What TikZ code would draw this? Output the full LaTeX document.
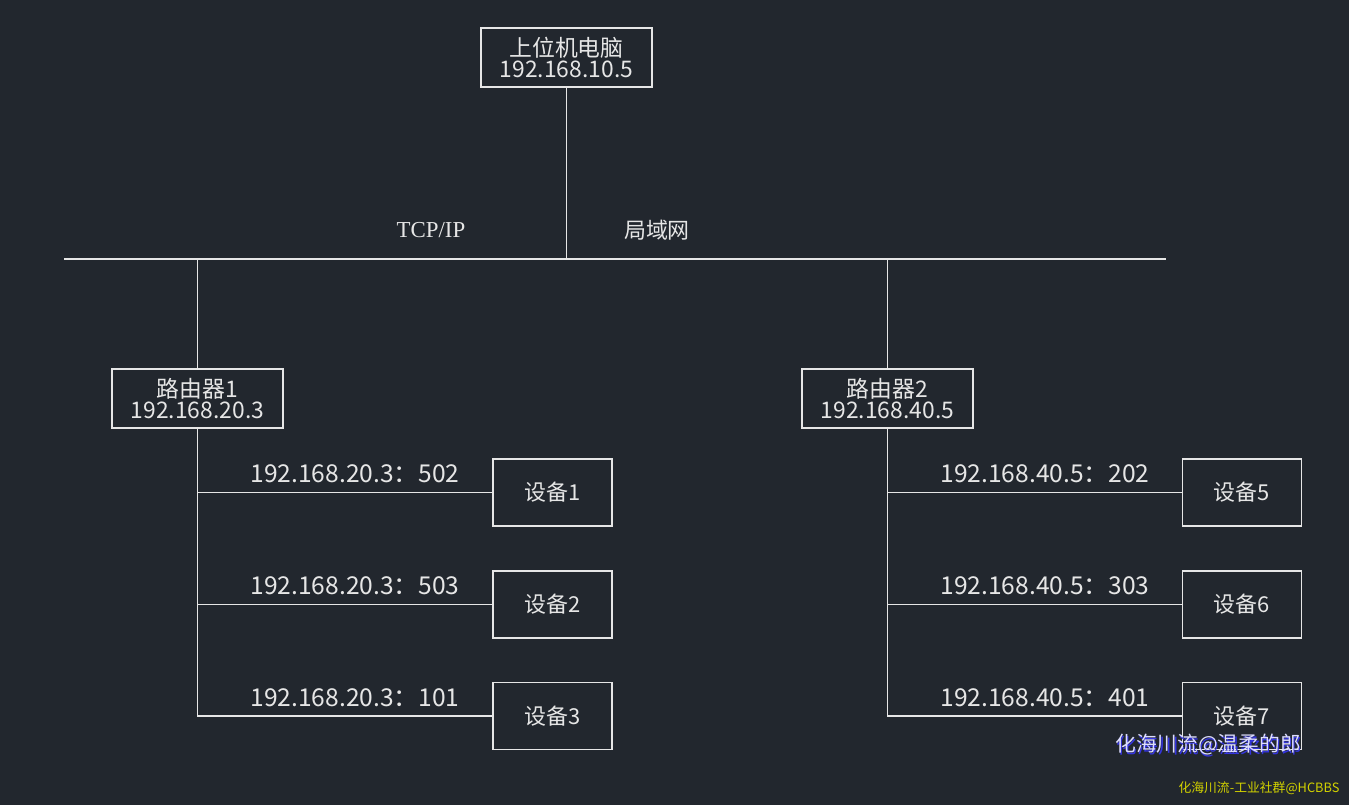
\documentclass[tikz,border=0pt]{standalone}
\usepackage{fontspec}
\setmainfont{Noto Sans CJK SC}
\newfontfamily\serifx{Liberation Serif}
\definecolor{bg}{HTML}{22272E}
\definecolor{ln}{HTML}{E6E6E6}
\definecolor{wmA}{HTML}{DCDCFF}
\definecolor{wmAs}{HTML}{3434E0}
\definecolor{wmB}{HTML}{D2D200}
\tikzset{
  box/.style={draw=ln, line width=0.6pt, text=ln, align=center, inner sep=0pt,
    minimum width=3.42cm, minimum height=1.18cm, font=\fontsize{13}{14}\selectfont},
  dev/.style={draw=ln, line width=0.6pt, text=ln, inner sep=0pt,
    minimum width=2.38cm, minimum height=1.34cm, font=\fontsize{12.5}{14}\selectfont},
  conn/.style={draw=ln, line width=0.6pt},
  lbl/.style={text=ln, inner sep=0pt, font=\fontsize{14}{15}\selectfont},
}
\begin{document}
\begin{tikzpicture}[x=0.02cm,y=-0.02cm]
\fill[bg] (0,0) rectangle (1349,805);
\useasboundingbox (0,0) rectangle (1349,805);
% nodes
\node[box] (pc) at (566.5,57.5) {上位机电脑\\[-2pt]192.168.10.5};
\node[box] (r1) at (197.5,398.5) {路由器1\\[-2pt]192.168.20.3};
\node[box] (r2) at (887.5,398.5) {路由器2\\[-2pt]192.168.40.5};
\node[dev] (d1) at (552.5,492.5) {设备1};
\node[dev] (d2) at (552.5,604.5) {设备2};
\node[dev] (d3) at (552.5,716) {设备3};
\node[dev] (d5) at (1242,492.5) {设备5};
\node[dev] (d6) at (1242,604.5) {设备6};
\node[dev] (d7) at (1242,716) {设备7};
% bus
\coordinate (busL) at (64,259);
\coordinate (busR) at (1166,259);
\draw[conn] (busL) -- (busR);
\draw[conn] (pc.south) -- (pc.south |- busL);
\draw[conn] (r1.north) -- (r1.north |- busL);
\draw[conn] (r2.north) -- (r2.north |- busL);
% router trunks
\draw[conn] (r1.south) -- (r1.south |- d3.west) -- (d3.west);
\draw[conn] (r1.south |- d1.west) -- (d1.west);
\draw[conn] (r1.south |- d2.west) -- (d2.west);
\draw[conn] (r2.south) -- (r2.south |- d7.west) -- (d7.west);
\draw[conn] (r2.south |- d5.west) -- (d5.west);
\draw[conn] (r2.south |- d6.west) -- (d6.west);
% labels
\node[lbl, font=\serifx\fontsize{13}{14}\selectfont] (tcp) at (431,230) {TCP/IP};
\node[lbl, font=\fontsize{12.5}{14}\selectfont] (lan) at (657,230) {局域网};
\node[lbl] (l1) at (355,474) {192.168.20.3：502};
\node[lbl] (l2) at (355,586) {192.168.20.3：503};
\node[lbl] (l3) at (355,698) {192.168.20.3：101};
\node[lbl] (l5) at (1045,474) {192.168.40.5：202};
\node[lbl] (l6) at (1045,586) {192.168.40.5：303};
\node[lbl] (l7) at (1045,698) {192.168.40.5：401};
% watermarks
\node[inner sep=0pt, text=wmAs, font=\fontsize{11.8}{13}\selectfont] (wmas) at (1209.5,746.5) {化海川流@温柔的郎};
\node[inner sep=0pt, text=wmA, font=\fontsize{11.8}{13}\selectfont] (wma) at (1208,745) {化海川流@温柔的郎};
\node[inner sep=0pt, text=wmB, font=\fontsize{7.3}{9}\selectfont] (wmb) at (1259,788) {化海川流-工业社群@HCBBS};
\end{tikzpicture}
\end{document}
